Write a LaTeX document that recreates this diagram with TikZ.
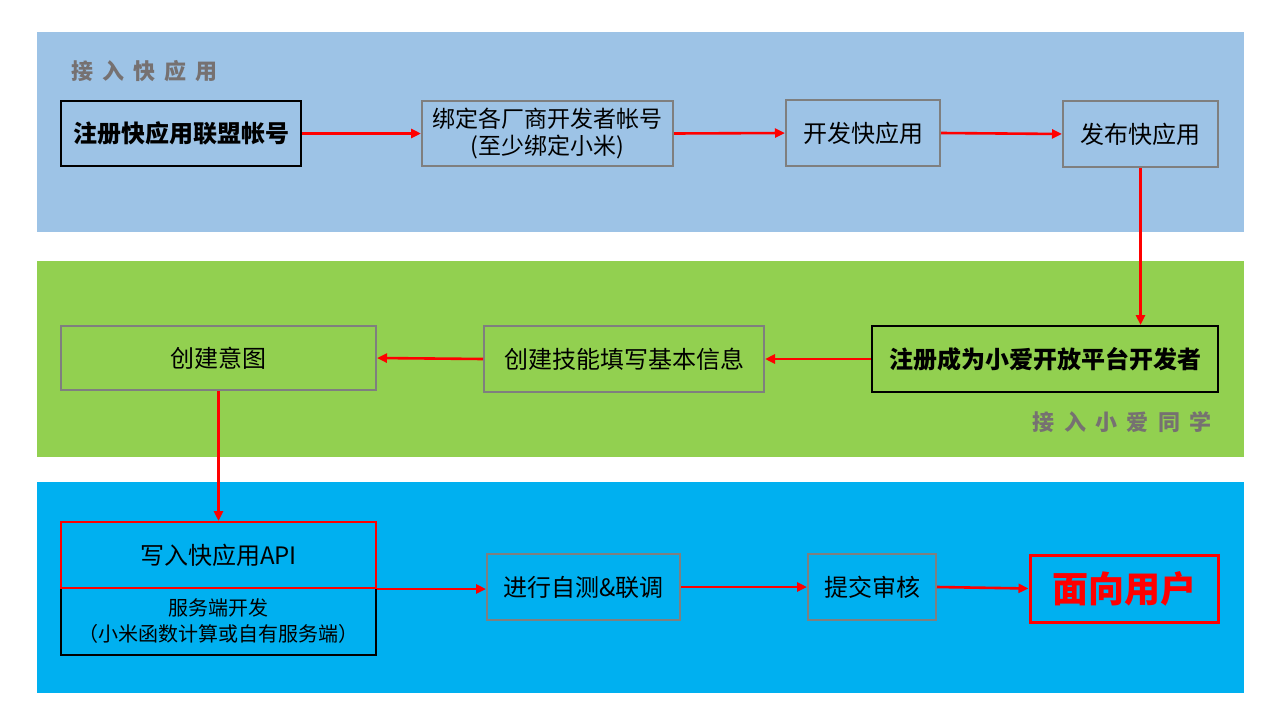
\documentclass[tikz,border=0pt]{standalone}
\usepackage{fontspec}
\setmainfont{Noto Sans CJK SC}
\newfontfamily\cjk{Noto Sans CJK SC}
\usetikzlibrary{arrows.meta}
\definecolor{bandblue}{HTML}{9DC3E6}
\definecolor{bandgreen}{HTML}{92D050}
\definecolor{bandcyan}{HTML}{00B0F0}
\definecolor{boxgray}{HTML}{7F7F7F}
\definecolor{lblgray}{HTML}{767171}
\definecolor{arrred}{HTML}{FF0000}
\tikzset{
  gbox/.style={draw=boxgray, line width=2pt, inner sep=0pt, align=center, font=\fontsize{24}{28}\selectfont},
  kbox/.style={draw=black, line width=2pt, inner sep=0pt, align=center, font=\fontsize{24}{28}\selectfont\bfseries},
  rbox/.style={draw=arrred, line width=2pt, inner sep=0pt, align=center, font=\fontsize{24}{28}\selectfont},
  lbl/.style={text=lblgray, font=\fontsize{22}{26}\selectfont\bfseries, inner sep=0pt},
  flow/.style={draw=arrred, line width=2.6pt, -{Triangle[length=10pt,width=9pt]}}
}
\begin{document}
\begin{tikzpicture}[x=1pt,y=-1pt]
\useasboundingbox (0,0) rectangle (1280,720);
\fill[white] (0,0) rectangle (1280,720);
% bands
\fill[bandblue] (37,32) rectangle (1244,232);
\fill[bandgreen] (37,261) rectangle (1244,457);
\fill[bandcyan] (37,482) rectangle (1244,693);
% labels
\node[lbl, anchor=west] (L1) at (71,71) {接\hspace{9pt}入\hspace{9pt}快\hspace{9pt}应\hspace{9pt}用};
\node[lbl, anchor=east] (L2) at (1212,422) {接\hspace{9.4pt}入\hspace{9.4pt}小\hspace{9.4pt}爱\hspace{9.4pt}同\hspace{9.4pt}学};
% row 1
\node[kbox, minimum width=240pt, minimum height=65pt] (n1) at (181,133.5) {注册快应用联盟帐号};
\node[gbox, minimum width=251pt, minimum height=65pt, font=\fontsize{23}{28}\selectfont] (n2) at (547.5,133.5) {绑定各厂商开发者帐号\\(至少绑定小米)};
\node[gbox, minimum width=154pt, minimum height=66pt] (n3) at (863,133) {开发快应用};
\node[gbox, minimum width=155pt, minimum height=66pt] (n4) at (1140.5,134) {发布快应用};
% row 2
\node[kbox, minimum width=346pt, minimum height=66pt] (n5) at (1045,359) {注册成为小爱开放平台开发者};
\node[gbox, minimum width=280pt, minimum height=66pt] (n6) at (624,359) {创建技能填写基本信息};
\node[gbox, minimum width=315pt, minimum height=64pt] (n7) at (218.5,358) {创建意图};
% row 3
\node[kbox, minimum width=315pt, minimum height=67pt, font=\fontsize{20}{26}\selectfont] (n9) at (218.5,621.5) {服务端开发\\（小米函数计算或自有服务端）};
\node[rbox, minimum width=315pt, minimum height=66pt] (n8) at (218.5,555) {写入快应用API};
\node[gbox, minimum width=193pt, minimum height=66pt] (n10) at (583.5,587) {进行自测\&联调};
\node[gbox, minimum width=128pt, minimum height=66pt] (n11) at (872,587) {提交审核};
\node[rbox, line width=3pt, minimum width=188pt, minimum height=67pt, text=arrred, font=\fontsize{36}{40}\selectfont\bfseries] (n12) at (1124,588.5) {面向用户};
% connectors
\draw[flow] (n1.east) -- (n2.west);
\draw[flow] (n2.east) -- (n3.west);
\draw[flow] (n3.east) -- (n4.west);
\draw[flow] (n4.south) -- (n5.north -| n4.south);
\draw[flow] (n5.west) -- (n6.east);
\draw[flow] (n6.west) -- (n7.east);
\draw[flow] (n7.south) -- (n8.north);
\draw[flow] (n8.south east) -- (n8.south east -| n10.west);
\draw[flow] (n10.east) -- (n11.west);
\draw[flow] (n11.east) -- (n12.west);
\end{tikzpicture}
\end{document}
